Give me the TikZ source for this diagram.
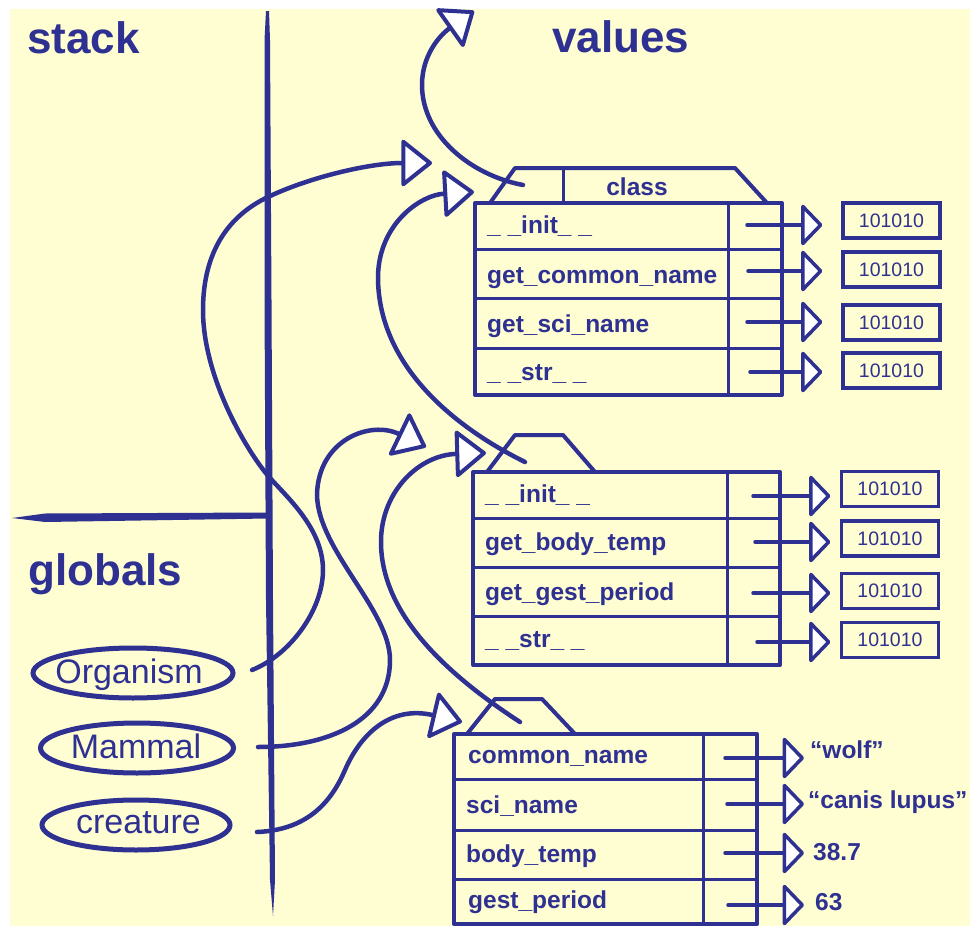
\documentclass[tikz,border=0pt]{standalone}
\usepackage{fontspec}
\setmainfont{Liberation Sans}
\usetikzlibrary{arrows.meta,shapes.geometric}
\definecolor{ink}{RGB}{46,49,146}
\definecolor{paper}{RGB}{255,253,210}
\begin{document}
\begin{tikzpicture}[x=1pt,y=-1pt,
  every node/.style={text=ink},
  heading/.style={font=\bfseries\fontsize{44}{44}\selectfont,anchor=base west,inner sep=0},
  rowtext/.style={font=\bfseries\fontsize{24.5}{24.5}\selectfont,anchor=base west,inner sep=0},
  valbox/.style={draw=ink,line width=3.2pt,minimum width=97pt,minimum height=35pt,inner sep=0,font=\fontsize{19.5}{19.5}\selectfont},
  valtext/.style={font=\bfseries\fontsize{24.5}{24.5}\selectfont,anchor=base west,inner sep=0},
  oval/.style={draw=ink,ellipse,line width=5pt,minimum height=50pt,inner sep=0},
  ovaltext/.style={font=\fontsize{34}{34}\selectfont,anchor=base,inner sep=0},
  boxline/.style={draw=ink,line width=4pt,line join=round,line cap=round},
  divider/.style={draw=ink,line width=3pt,line cap=round},
  link/.style={draw=ink,line width=4.5pt,line cap=round,-{Triangle[round,length=32pt,width=50pt,fill=white,line width=4pt]}},
  ptr/.style={draw=ink,line width=3.5pt,line cap=round,-{Triangle[round,length=22pt,width=45pt,fill=white,line width=3.5pt]}},
]
% paper
\fill[white] (0,0) rectangle (970,926);
\fill[paper] (10,9) rectangle (970,926);
\useasboundingbox (0,0) rectangle (970,926);

% stack / values / globals separators
\fill[ink] (266,11) -- (269,11) -- (270,40) -- (271.5,300) -- (273,600) -- (275,880) -- (273,916)
  -- (270,880) -- (266,600) -- (264.5,300) -- (264.5,40) -- cycle;
\fill[ink] (12,518) -- (45,513.5) -- (268,512.5) -- (268,518.5) -- (45,522) -- cycle;

\node[heading] (hstack) at (27,53) {stack};
\node[heading] (hvalues) at (552,52) {values};
\node[heading] (hglobals) at (28,585) {globals};

% global names
\node[oval,minimum width=200pt] (org) at (133,673) {};
\node[ovaltext] (orgtxt) at (129,683) {Organism};
\node[oval,minimum width=193pt] (mam) at (137,748) {};
\node[ovaltext] (mamtxt) at (136,758) {Mammal};
\node[oval,minimum width=188pt] (cre) at (136,825) {};
\node[ovaltext] (cretxt) at (138.5,833) {creature};

% ---- class Organism
\draw[boxline] (475,203) rectangle (782,395);
\draw[boxline] (490,203) -- (515,168) -- (735,168) -- (767,203);
\draw[divider] (563,168) -- (563,203);
\node[rowtext,anchor=base] (cls) at (637,195) {class};
\draw[divider] (728,203) -- (728,395);
\draw[divider] (475,249) -- (782,249);
\draw[divider] (475,298) -- (782,298);
\draw[divider] (475,348) -- (782,348);
\node[rowtext] (o1) at (487,233) {\_ \_init\_ \_};
\node[rowtext] (o2) at (487,283) {get\_common\_name};
\node[rowtext] (o3) at (487,332) {get\_sci\_name};
\node[rowtext] (o4) at (487,380) {\_ \_str\_ \_};

\node[valbox] (ov1) at (891.5,220.5) {101010};
\node[valbox] (ov2) at (891.5,269.5) {101010};
\node[valbox] (ov3) at (891.5,322.5) {101010};
\node[valbox] (ov4) at (891.5,370.5) {101010};
\coordinate (op1) at (747,225);
\coordinate (op2) at (748,271);
\coordinate (op3) at (747,322);
\coordinate (op4) at (750,372);
\foreach \i in {1,...,4}
  \draw[ptr,shorten >=19pt] (op\i) -- (op\i -| ov\i.west);

% ---- class Mammal
\draw[boxline] (473,472) rectangle (780,665);
\draw[boxline] (487,472) -- (515,435) -- (563,435) -- (595,472);
\draw[divider] (727,472) -- (727,665);
\draw[divider] (473,518) -- (780,518);
\draw[divider] (473,567) -- (780,567);
\draw[divider] (473,616) -- (780,616);
\node[rowtext] (m1) at (485,502) {\_ \_init\_ \_};
\node[rowtext] (m2) at (485,550) {get\_body\_temp};
\node[rowtext] (m3) at (485,600) {get\_gest\_period};
\node[rowtext] (m4) at (485,647) {\_ \_str\_ \_};

\node[valbox] (mv1) at (890,489) {101010};
\node[valbox] (mv2) at (890,538.5) {101010};
\node[valbox] (mv3) at (890,591) {101010};
\node[valbox] (mv4) at (890,640) {101010};
\coordinate (mp1) at (753,496);
\coordinate (mp2) at (755,542);
\coordinate (mp3) at (753,593);
\coordinate (mp4) at (757,642);
\foreach \i in {1,...,4}
  \draw[ptr,shorten >=9.5pt] (mp\i) -- (mp\i -| mv\i.west);

% ---- instance
\draw[boxline] (454,734) rectangle (757,924);
\draw[boxline] (467,734) -- (495,699) -- (542,699) -- (575,734);
\draw[divider] (703,734) -- (703,924);
\draw[divider] (454,779) -- (757,779);
\draw[divider] (454,830) -- (757,830);
\draw[divider] (454,879) -- (757,879);
\node[rowtext] (i1) at (468,763) {common\_name};
\node[rowtext] (i2) at (466,813) {sci\_name};
\node[rowtext] (i3) at (466,862) {body\_temp};
\node[rowtext] (i4) at (468,908) {gest\_period};

\node[valtext] (iv1) at (810,758) {“wolf”};
\node[valtext] (iv2) at (808,808) {“canis lupus”};
\node[valtext] (iv3) at (813,860) {38.7};
\node[valtext] (iv4) at (815,910) {63};
\coordinate (ip1) at (725,758);
\coordinate (ip2) at (727,804);
\coordinate (ip3) at (725,853);
\coordinate (ip4) at (728,905);
\draw[ptr,shorten >=6pt] (ip1) -- (ip1 -| iv1.west);
\draw[ptr,shorten >=4pt] (ip2) -- (ip2 -| iv2.west);
\draw[ptr,shorten >=9pt] (ip3) -- (ip3 -| iv3.west);
\draw[ptr,shorten >=11pt] (ip4) -- (ip4 -| iv4.west);

% ---- references
\coordinate (orgout) at (252,670);
\coordinate (mamout) at (258,747);
\coordinate (creout) at (257,832);
\coordinate (tab1) at (523,185);
\coordinate (tab2) at (525,462);
\coordinate (tab3) at (520,722);
\coordinate (orgin) at (432,163);
\coordinate (typein) at (474,11);
\coordinate (cls1in) at (474,192);
\coordinate (mamin) at (426,447);
\coordinate (cls2in) at (486,453);
\coordinate (crein) at (462,722);

\draw[link] (orgout) .. controls (290,655) and (323,610) .. (323,570)
  .. controls (323,530) and (290,500) .. (270,478)
  .. controls (250,456) and (203,380) .. (203,310)
  .. controls (203,250) and (230,215) .. (268,197)
  .. controls (310,177) and (370,163) .. (orgin);
\draw[link] (mamout) .. controls (330,747) and (390,720) .. (390,660)
  .. controls (390,610) and (318,550) .. (317,495)
  .. controls (318,440) and (370,420) .. (mamin);
\draw[link] (creout) .. controls (305,830) and (330,805) .. (345,770)
  .. controls (360,735) and (390,705) .. (crein);
\draw[link] (tab1) .. controls (470,175) and (422,135) .. (422,85)
  .. controls (422,55) and (440,35) .. (typein);
\draw[link] (tab2) .. controls (460,430) and (380,370) .. (378,280)
  .. controls (377,225) and (420,195) .. (cls1in);
\draw[link] (tab3) .. controls (440,670) and (380,610) .. (381,540)
  .. controls (382,490) and (420,455) .. (cls2in);
\end{tikzpicture}
\end{document}
